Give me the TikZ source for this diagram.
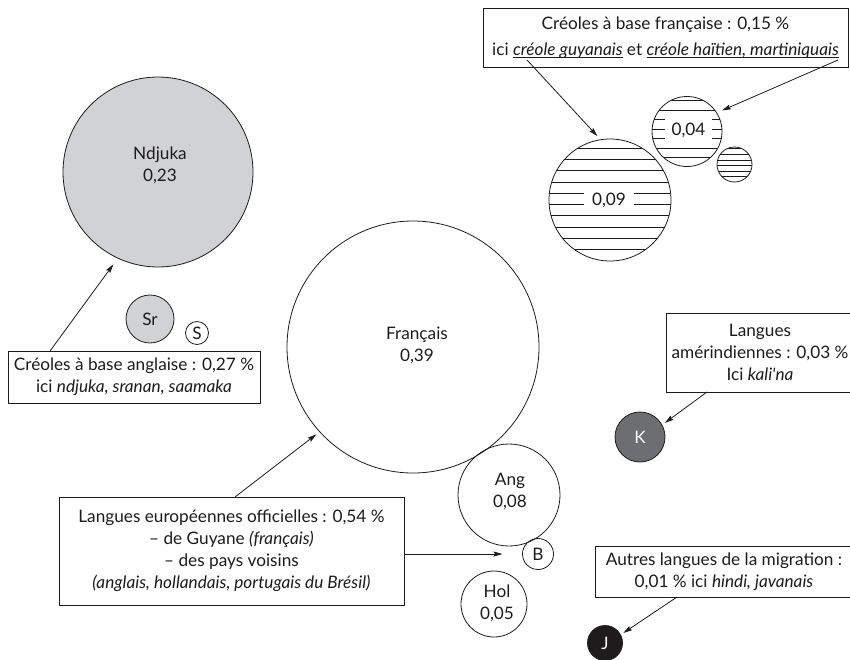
\documentclass[tikz,border=0pt]{standalone}
\usepackage{fontspec}
\setmainfont{Lato}
\usetikzlibrary{arrows.meta}
\definecolor{ink}{RGB}{30,27,28}
\definecolor{lgray}{RGB}{209,210,212}
\definecolor{dgray}{RGB}{109,110,113}
\newlength\ulw
\newcommand\myul[1]{\settowidth{\ulw}{#1}\rlap{\rule[-2.4pt]{\ulw}{0.6pt}}#1}
\begin{document}
\begin{tikzpicture}[x=1pt,y=-1pt,
  every node/.style={font=\fontsize{17.2}{22}\selectfont, text=ink},
  circ/.style={circle, draw=ink, line width=0.8pt, inner sep=0pt, outer sep=0pt},
  lbox/.style={draw=ink, line width=0.8pt, fill=white, align=center, inner sep=0pt, outer sep=0pt},
  txt/.style={align=center, inner sep=0pt},
  arr/.style={draw=ink, line width=0.8pt, -{Stealth[length=9pt,width=5pt,inset=1.5pt]}},
  hatch/.style={draw=ink, line width=0.7pt},
  gap/.style={fill=white, inner sep=0pt, text=ink}
]
\useasboundingbox (0,0) rectangle (850,659);

% ---- creoles a base anglaise
\node[circ, fill=lgray, minimum size=190pt] (ndjuka) at (158,172) {};
\node[txt] at (160,165) {Ndjuka\\0,23};
\node[circ, fill=lgray, minimum size=48pt] (srn) at (150,319) {Sr};
\node[circ, minimum size=23pt] (sm) at (197,333) {S};
\node[lbox, minimum width=252pt, minimum height=52pt] (angl) at (134,377)
  {Créoles à base anglaise : 0,27 \%\\ici \textit{ndjuka, sranan, saamaka}};

% ---- langues europeennes
\node[circ, minimum size=252pt] (fr) at (413,347) {};
\node[txt] at (417,345) {Français\\0,39};
\node[circ, minimum size=102pt] (ang) at (509,495) {};
\node[txt] at (510,491) {Ang\\0,08};
\node[circ, minimum size=31pt] (bb) at (538,554) {B};
\node[circ, minimum size=66pt] (hol) at (494,604) {};
\node[txt] at (497,603) {Hol\\0,05};
\node[lbox, minimum width=345pt, minimum height=108pt] (eur) at (231.5,551)
  {Langues européennes officielles : 0,54 \%\\
   – de Guyane \textit{(français)}\\
   – des pays voisins\\
   \textit{(anglais, hollandais, portugais du Brésil)}};

% ---- creoles a base francaise
\node[circ, minimum size=122pt] (c09) at (610,200) {};
\begin{scope}
  \clip (c09.center) circle (61pt);
  \foreach \i in {0,...,10} \draw[hatch] (540,148+11.3*\i) -- (680,148+11.3*\i);
\end{scope}
\node[gap, minimum width=50pt, minimum height=18pt] at (609,200) {0,09};
\node[circ, minimum size=70pt] (c04) at (687,131.5) {};
\begin{scope}
  \clip (c04.center) circle (35pt);
  \foreach \i in {0,...,6} \draw[hatch] (640,100.5+9.5*\i) -- (730,100.5+9.5*\i);
\end{scope}
\node[gap, minimum width=47pt, minimum height=28pt] at (688.5,130) {0,04};
\node[circ, minimum size=35pt] (c01) at (734.5,164.5) {};
\begin{scope}
  \clip (c01.center) circle (17.5pt);
  \foreach \i in {0,...,6} \draw[hatch] (710,148.7+5.6*\i) -- (760,148.7+5.6*\i);
\end{scope}
\node[lbox, minimum width=365pt, minimum height=59pt] (top) at (665.5,37.5)
  {Créoles à base française : 0,15 \%\\[4pt]
   ici \myul{\textit{créole guyanais}} et \myul{\textit{créole haïtien, martiniquais}}};

% ---- amerindiennes, migration
\node[circ, fill=dgray, minimum size=50pt, text=white] (k) at (640,437) {K};
\node[lbox, minimum width=188pt, minimum height=79pt] (lang) at (760,352.5)
  {Langues\\amérindiennes : 0,03 \%\\Ici \textit{kali\textquotesingle na}};
\node[circ, fill=ink, minimum size=35pt, text=white] (j) at (605,643) {J};
\node[lbox, minimum width=258pt, minimum height=51pt] (aut) at (724,571.5)
  {Autres langues de la migration :\\0,01 \% ici \textit{hindi, javanais}};

% ---- connectors
\draw[arr] ([xshift=42pt]angl.north west) -- ([shift={(-3,7)}]ndjuka.244);
\draw[arr] ([shift={(44,52)}]top.north west) -- ([shift={(-1,-4)}]c09.101.5);
\draw[arr] ([shift={(-10,52)}]top.north east) -- ([shift={(5,-3)}]c04.31.6);
\draw[arr] ([xshift=176pt]eur.north west) -- ([shift={(-3,3)}]fr.222.5);
\draw[arr] (eur.east |- bb.west) -- ([xshift=-20pt]bb.west);
\draw[arr] ([xshift=41pt]lang.south west) -- ([shift={(3,-2)}]k.29);
\draw[arr] ([xshift=82pt]aut.south west) -- ([shift={(3,-1.5)}]j.29);
\end{tikzpicture}
\end{document}
